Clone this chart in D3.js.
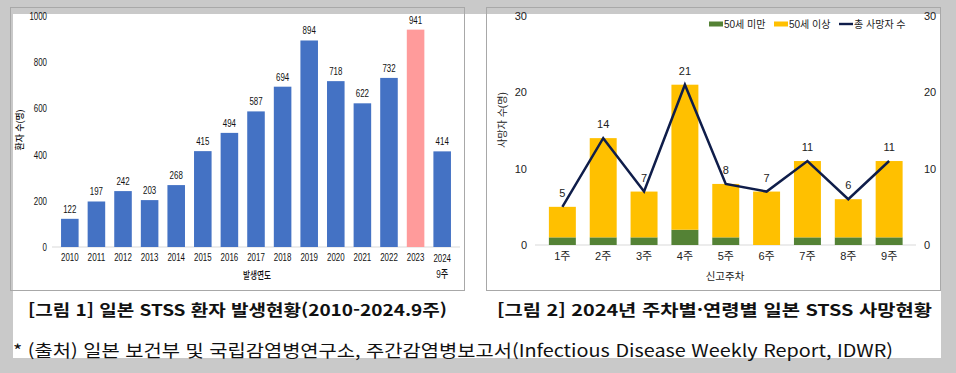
<!doctype html>
<html lang="ko">
<head>
<meta charset="utf-8">
<script src="https://cdn.jsdelivr.net/npm/d3@7/dist/d3.min.js"></script>
<style>
  body { margin: 0; background: #c9c9c9; }
  svg { display: block; }
  .narrow { font-family: "Liberation Sans", Arial, "Noto Sans CJK KR", sans-serif; }
  .reg { font-family: "Liberation Sans", Arial, "Noto Sans CJK KR", sans-serif; }
</style>
</head>
<body>
<svg id="chart" width="956" height="373"></svg>
<script>
// figure 1: patients per year
const years = ["2010","2011","2012","2013","2014","2015","2016","2017","2018","2019","2020","2021","2022","2023","2024"];
const patients = [122,197,242,203,268,415,494,587,694,894,718,622,732,941,414];
const highlightYear = "2023";
const yTicks1 = [0,200,400,600,800,1000];

// figure 2: deaths per week in 2024
const weeks = ["1주","2주","3주","4주","5주","6주","7주","8주","9주"];
const under50 = [1,1,1,2,1,0,1,1,1];
const over50 = [4,13,6,19,7,7,10,5,10];
const totalDeaths = [5,14,7,21,8,7,11,6,11];
const yTicks2 = [0,10,20,30];

const svg = d3.select("#chart");

// squeeze digits so they look like the condensed font of the original
function squeeze(sel) {
  sel.each(function() {
    const t = d3.select(this);
    const n = t.text().length;
    t.attr("textLength", n * 4.4).attr("lengthAdjust", "spacingAndGlyphs");
  });
}

// page frame
svg.append("rect").attr("x",13).attr("y",14).attr("width",928).attr("height",344).attr("fill","#fff");
svg.append("rect").attr("x",10.5).attr("y",7.5).attr("width",454).attr("height",283)
  .attr("fill","none").attr("stroke","#a8a8a8");
svg.append("rect").attr("x",486.5).attr("y",7.5).attr("width",454).attr("height",283)
  .attr("fill","none").attr("stroke","#a8a8a8");

// ---------- chart 1 ----------
const x1 = d3.scaleBand().domain(years).range([52,460]).padding(0.34);
const y1 = d3.scaleLinear().domain([0,1000]).range([247,16]);
const g1 = svg.append("g");

g1.append("line").attr("x1",52).attr("x2",460).attr("y1",y1(0)).attr("y2",y1(0))
  .attr("stroke","#d9d9d9");

g1.selectAll("rect.bar").data(patients).enter().append("rect")
  .attr("class","bar")
  .attr("x",(d,i) => x1(years[i]))
  .attr("y",d => y1(d))
  .attr("width",x1.bandwidth())
  .attr("height",d => y1(0) - y1(d))
  .attr("fill",(d,i) => years[i] === highlightYear ? "#ff9b9b" : "#4472c4");

g1.selectAll("text.val").data(patients).enter().append("text")
  .attr("class","val narrow")
  .attr("x",(d,i) => x1(years[i]) + x1.bandwidth()/2)
  .attr("y",d => y1(d) - 6)
  .attr("text-anchor","middle")
  .attr("font-size",11).attr("font-weight",500).attr("fill","#111")
  .text(d => d)
  .call(squeeze);

const ax1 = g1.append("g").attr("transform","translate(47,0)")
  .call(d3.axisLeft(y1).tickValues(yTicks1).tickFormat(d3.format("d")).tickSize(0).tickPadding(0));
ax1.select(".domain").remove();
ax1.selectAll("text").attr("class","narrow").attr("font-size",11).attr("font-weight",500)
  .attr("fill","#111").call(squeeze);

const bx1 = g1.append("g").attr("transform","translate(0,253)")
  .call(d3.axisBottom(x1).tickSize(0).tickPadding(0));
bx1.select(".domain").remove();
bx1.selectAll("text").attr("class","narrow").attr("font-size",11).attr("font-weight",500)
  .attr("fill","#111").attr("dy","0.7em").call(squeeze);
bx1.selectAll(".tick").filter(d => d === "2024").select("text").attr("y",1.5);
g1.append("text").attr("class","narrow")
  .attr("x",x1("2024") + x1.bandwidth()/2).attr("y",278)
  .attr("text-anchor","middle").attr("font-size",11).attr("font-weight",500).attr("fill","#111").text("9주")
  .attr("textLength",12).attr("lengthAdjust","spacingAndGlyphs");

g1.append("text").attr("class","narrow").attr("x",257).attr("y",279)
  .attr("text-anchor","middle").attr("font-size",10.5).attr("font-weight",500).attr("fill","#111").text("발생연도")
  .attr("textLength",28).attr("lengthAdjust","spacingAndGlyphs");
g1.append("text").attr("class","narrow")
  .attr("transform","translate(23,130) rotate(-90)")
  .attr("text-anchor","middle").attr("font-size",9.5).attr("font-weight",500).attr("fill","#111").text("환자 수(명)")
  .attr("textLength",41).attr("lengthAdjust","spacingAndGlyphs");

// ---------- chart 2 ----------
const x2 = d3.scaleBand().domain(weeks).range([535,916.5]).padding(0.34);
const y2 = d3.scaleLinear().domain([0,30]).range([245,16]);
const g2 = svg.append("g");

g2.append("line").attr("x1",535).attr("x2",916).attr("y1",y2(0)).attr("y2",y2(0))
  .attr("stroke","#d9d9d9");

const stackData = weeks.map((w,i) => ({week: w, under: under50[i], over: over50[i]}));
const stacked = d3.stack().keys(["under","over"])(stackData);
const stackColors = {under: "#548235", over: "#ffc000"};

g2.selectAll("g.layer").data(stacked).enter().append("g")
  .attr("class","layer").attr("fill",d => stackColors[d.key])
  .selectAll("rect").data(d => d).enter().append("rect")
  .attr("x",d => x2(d.data.week))
  .attr("y",d => y2(d[1]))
  .attr("width",x2.bandwidth())
  .attr("height",d => y2(d[0]) - y2(d[1]));

const line = d3.line()
  .x((d,i) => x2(weeks[i]) + x2.bandwidth()/2)
  .y(d => y2(d));
g2.append("path").datum(totalDeaths).attr("d",line)
  .attr("fill","none").attr("stroke","#0f1d4a").attr("stroke-width",2.5)
  .attr("stroke-linejoin","miter");

g2.selectAll("text.val").data(totalDeaths).enter().append("text")
  .attr("class","val reg")
  .attr("x",(d,i) => x2(weeks[i]) + x2.bandwidth()/2)
  .attr("y",d => y2(d) - 10)
  .attr("text-anchor","middle").attr("font-size",11).attr("fill","#222")
  .text(d => d);

const ax2 = g2.append("g").attr("transform","translate(527,0)")
  .call(d3.axisLeft(y2).tickValues(yTicks2).tickSize(0).tickPadding(0));
ax2.select(".domain").remove();
ax2.selectAll("text").attr("class","reg").attr("font-size",11).attr("fill","#222");

const ax2r = g2.append("g").attr("transform","translate(924,0)")
  .call(d3.axisRight(y2).tickValues(yTicks2).tickSize(0).tickPadding(0));
ax2r.select(".domain").remove();
ax2r.selectAll("text").attr("class","reg").attr("font-size",11).attr("fill","#222");

const bx2 = g2.append("g").attr("transform","translate(0,252)")
  .call(d3.axisBottom(x2).tickSize(0).tickPadding(0));
bx2.select(".domain").remove();
bx2.selectAll("text").attr("class","reg").attr("font-size",11).attr("fill","#222")
  .attr("dy","0.7em");

g2.append("text").attr("class","reg").attr("x",725).attr("y",280)
  .attr("text-anchor","middle").attr("font-size",10.5).attr("fill","#222").text("신고주차");
g2.append("text").attr("class","reg")
  .attr("transform","translate(506,120) rotate(-90)")
  .attr("text-anchor","middle").attr("font-size",10).attr("fill","#222").text("사망자 수(명)");

// legend
const legend = [
  {label: "50세 미만", color: "#548235", type: "rect", x: 709},
  {label: "50세 이상", color: "#ffc000", type: "rect", x: 774},
  {label: "총 사망자 수", color: "#0f1d4a", type: "line", x: 839}
];
const lg = g2.selectAll("g.leg").data(legend).enter().append("g").attr("class","leg")
  .attr("transform",d => `translate(${d.x},24)`);
lg.append("rect").attr("x",0).attr("y",d => d.type === "rect" ? -2.5 : -1.2)
  .attr("width",14).attr("height",d => d.type === "rect" ? 5 : 2.4).attr("fill",d => d.color);
lg.append("text").attr("class","reg").attr("x",15).attr("y",4)
  .attr("font-size",10).attr("fill","#222").text(d => d.label);

// captions
svg.append("text").attr("x",28).attr("y",316)
  .attr("font-family","'Noto Sans CJK KR', sans-serif").attr("font-weight","bold")
  .attr("font-size",16).attr("fill","#111")
  .attr("textLength",419).attr("lengthAdjust","spacingAndGlyphs")
  .text("[그림 1] 일본 STSS 환자 발생현황(2010-2024.9주)");
svg.append("text").attr("x",497).attr("y",316)
  .attr("font-family","'Noto Sans CJK KR', sans-serif").attr("font-weight","bold")
  .attr("font-size",16).attr("fill","#111")
  .attr("textLength",435).attr("lengthAdjust","spacingAndGlyphs")
  .text("[그림 2] 2024년 주차별·연령별 일본 STSS 사망현황");
svg.append("text").attr("x",13).attr("y",357)
  .attr("font-family","'Noto Sans CJK KR', sans-serif")
  .attr("font-size",17).attr("fill","#111")
  .attr("textLength",880).attr("lengthAdjust","spacingAndGlyphs")
  .text("* (출처) 일본 보건부 및 국립감염병연구소, 주간감염병보고서(Infectious Disease Weekly Report, IDWR)");
</script>
</body>
</html>
